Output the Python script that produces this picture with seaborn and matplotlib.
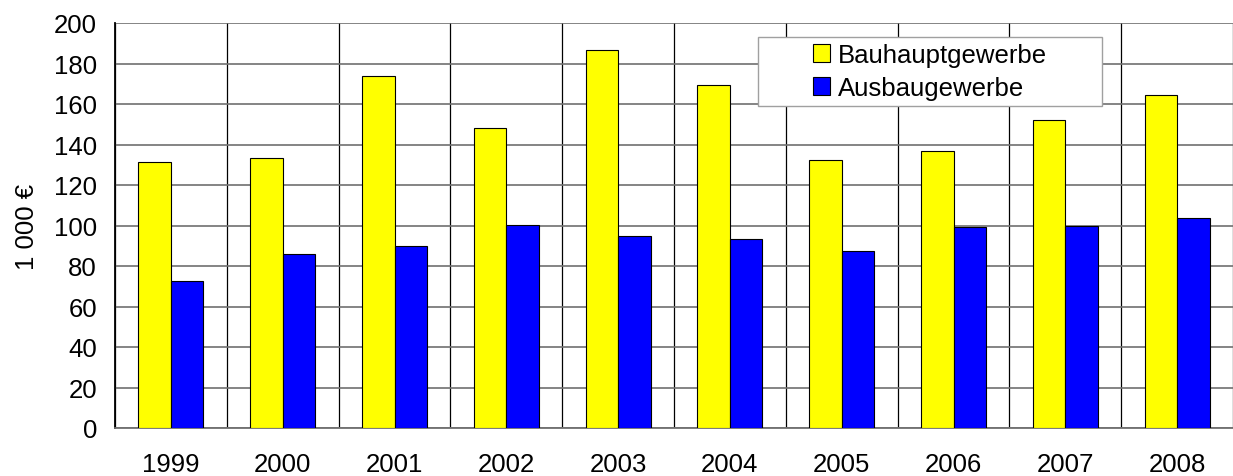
import matplotlib
matplotlib.use("Agg")
import matplotlib.pyplot as plt
import matplotlib.patches as mpatches
import seaborn as sns
import pandas as pd
import numpy as np

years = ["1999", "2000", "2001", "2002", "2003", "2004", "2005", "2006", "2007", "2008"]
bauhaupt = [131.3, 133.2, 173.8, 148.1, 186.6, 169.3, 132.3, 136.7, 152.3, 164.4]
ausbau = [72.5, 85.9, 89.7, 100.1, 94.7, 93.4, 87.4, 99.1, 100.0, 103.6]
series_names = ["Bauhauptgewerbe", "Ausbaugewerbe"]
colors = ["#FFFF00", "#0000FF"]
y_ticks = [0, 20, 40, 60, 80, 100, 120, 140, 160, 180, 200]
y_label = "1 000 €"

df = pd.DataFrame({
    "Jahr": years * 2,
    "Wert": bauhaupt + ausbau,
    "Reihe": [series_names[0]] * len(years) + [series_names[1]] * len(years),
})

sns.set_style("white")
plt.rcParams["font.family"] = ["Liberation Sans", "DejaVu Sans"]
plt.rcParams["text.color"] = "black"
plt.rcParams["axes.labelcolor"] = "black"
plt.rcParams["xtick.color"] = "black"
plt.rcParams["ytick.color"] = "black"

FS = 18.5
W, H = 1233, 477
fig = plt.figure(figsize=(W / 100, H / 100), dpi=100)
ax = fig.add_axes([115 / W, (H - 429) / H, (1233 - 115) / W, 405 / H])

sns.barplot(data=df, x="Jahr", y="Wert", hue="Reihe", palette=colors,
            width=0.58, edgecolor="black", linewidth=0.8, saturation=1,
            ax=ax, zorder=3)

ax.set_ylim(0, 200)
ax.set_xlim(-0.5, len(years) - 0.5)
ax.set_yticks(y_ticks)
ax.set_yticklabels([str(t) for t in y_ticks], fontsize=FS, color="black")
ax.set_xticks(range(len(years)))
ax.set_xticklabels(years, fontsize=FS, color="black")
ax.tick_params(axis="x", which="major", length=0, pad=17)
ax.set_xticks(np.arange(-0.5, len(years), 1.0), minor=True)
ax.tick_params(axis="x", which="minor", length=6, direction="out", color="black", width=1)
ax.tick_params(axis="y", length=6, direction="out", color="black", width=1, pad=7)

ax.grid(axis="y", which="major", color="#707070", linewidth=1.2, zorder=0)
ax.grid(axis="x", which="minor", color="black", linewidth=0.9, zorder=0)
ax.grid(axis="x", which="major", visible=False)
ax.set_axisbelow(True)

ax.set_xlabel("")
ax.set_ylabel(y_label, fontsize=FS, labelpad=11, color="black")

for s in ["top", "right"]:
    ax.spines[s].set_visible(False)
ax.spines["left"].set_color("black")
ax.spines["left"].set_linewidth(1.3)
ax.spines["bottom"].set_color("#707070")
ax.spines["bottom"].set_linewidth(1.3)

# legend frame (as in the reference: wider than its content)
frame = mpatches.Rectangle((758 / W, 1 - 107 / H), (1102 - 758) / W, (107 - 38) / H,
                           transform=fig.transFigure, facecolor="white",
                           edgecolor="#A0A0A0", linewidth=1.0, zorder=5,
                           clip_on=False)
ax.add_artist(frame)

handles, labels = ax.get_legend_handles_labels()
leg = ax.legend(handles, labels, loc="center",
                bbox_to_anchor=((758 + 1102) / 2 / W, 1 - (38 + 107) / 2 / H),
                bbox_transform=fig.transFigure,
                fontsize=FS, frameon=False, labelcolor="black",
                handlelength=0.65, handleheight=0.65, handletextpad=0.3,
                borderpad=0.0, labelspacing=0.35, borderaxespad=0)
leg.set_zorder(10)
for h in leg.legend_handles:
    h.set_edgecolor("black")
    h.set_linewidth(0.8)

fig.savefig("out.png", dpi=100, facecolor="white")
